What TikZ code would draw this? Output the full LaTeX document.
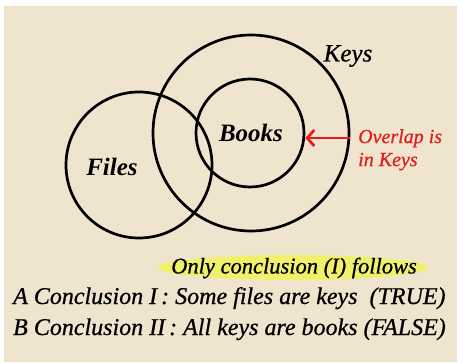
\documentclass[tikz,border=0pt]{standalone}
\usepackage{fontspec}
\setmainfont{Liberation Serif}
\usetikzlibrary{arrows.meta}
\definecolor{paper}{RGB}{239,229,207}
\definecolor{hl}{RGB}{240,244,90}
\definecolor{redtxt}{RGB}{226,30,30}
\newcommand{\heavyit}{\itshape\addfontfeatures{FakeBold=0.7}}
\tikzset{
  setcircle/.style={draw=black, line width=2.7pt, circle, inner sep=0pt},
  setlabel/.style={font=\fontsize{25}{28}\selectfont\itshape\bfseries, inner sep=0pt},
  bottomline/.style={font=\fontsize{24}{27}\selectfont\heavyit, anchor=base west, inner sep=0pt},
}
\begin{document}
\begin{tikzpicture}[x=1pt,y=1pt]
\useasboundingbox (0,0) rectangle (463,362);
\fill[white] (0,0) rectangle (463,362);
\fill[paper] (4,0) rectangle (457,356);
% circles
\node[setcircle, minimum size=146pt] (files) at (139,197) {};
\node[setcircle, minimum size=196pt] (keys) at (251,229) {};
\node[setcircle, minimum size=108pt] (books) at (250,229) {};
% labels
\node[setlabel] (bookslbl) at (251,229) {Books};
\node[setlabel] (fileslbl) at (112,195) {Files};
\node[font=\fontsize{25}{28}\selectfont\heavyit, inner sep=0pt] (keyslbl) at (348,306) {Keys};
% arrow + note
\coordinate (arrowstart) at (350,224);
\draw[redtxt, line width=2.6pt, -{Straight Barb[length=7pt,width=16pt,line width=2.8pt]}] (arrowstart) -- (books.east |- arrowstart);
\node[font=\fontsize{20}{23}\selectfont\heavyit, text=redtxt, anchor=north west, align=left, inner sep=0pt] (note) at (358,233) {Overlap is\\in Keys};
% highlight
\fill[hl, opacity=0.85] (293,94.5) ellipse [x radius=135, y radius=12.5];
\node[font=\fontsize{22.5}{24}\selectfont\heavyit, inner sep=0pt] (only) at (294,94) {Only conclusion (I) follows};
% bottom lines
\node[bottomline] (lineA) at (13,58) {A Conclusion I\,: Some files are keys\ \ (TRUE)};
\node[bottomline] (lineB) at (13,27) {B Conclusion II\,: All keys are books (FALSE)};
\end{tikzpicture}
\end{document}
